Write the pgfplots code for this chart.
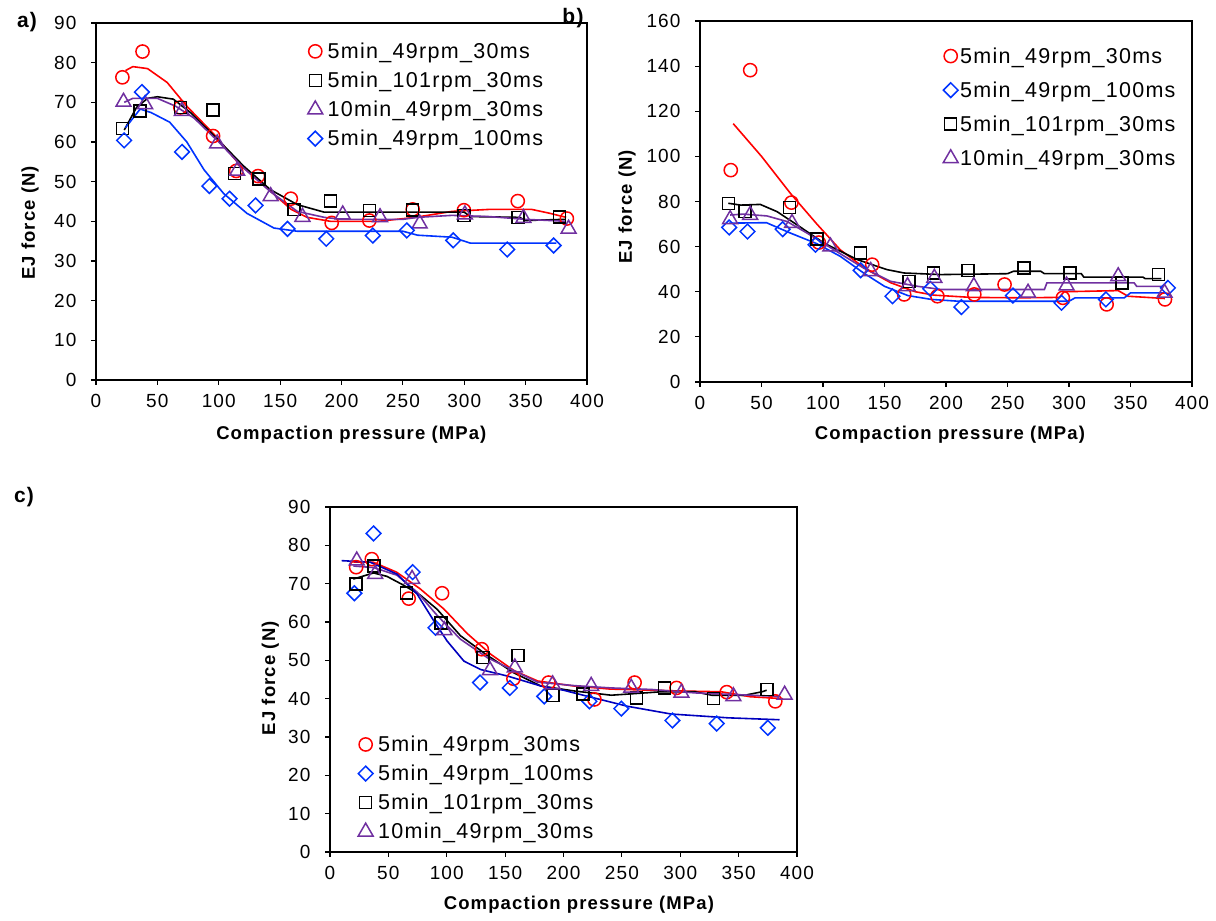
\documentclass[border=0pt]{standalone}
\usepackage{pgfplots}
\pgfplotsset{compat=1.18}
\usepackage{fontspec}
\setmainfont{Liberation Sans}[LetterSpace=6]
\definecolor{cred}{RGB}{255,0,0}
\definecolor{cblue}{RGB}{0,51,255}
\definecolor{cpurple}{RGB}{112,48,160}
\definecolor{cnavy}{RGB}{0,0,190}
\pgfplotsset{
  ejstyle/.style={
    scale only axis,
    xmin=0, xmax=400, ymin=0,
    xtick={0,50,...,400},
    tick align=outside, xtick pos=bottom, ytick pos=left,
    major tick length=5bp,
    axis line style={line width=1.4bp},
    every tick/.style={black, line width=1.2bp},
    tick label style={font=\fontsize{19bp}{20bp}\selectfont},
    xticklabel style={yshift=-6bp},
    yticklabel style={xshift=-11bp},
    /pgf/number format/assume math mode=true,
    label style={font=\bfseries\fontsize{18.5bp}{20bp}\selectfont},
    xlabel={Compaction pressure (MPa)}, ylabel={EJ force (N)},
    legend cell align=left,
    legend style={draw=none, fill=none, inner sep=0pt,
      font=\fontsize{21.5bp}{23bp}\selectfont,
      nodes={inner sep=0pt}, column sep=5bp},
  },
  myleg/.style={legend image code/.code={\draw[mark repeat=2,mark phase=2,##1] plot coordinates {(-8bp,0bp)(0bp,0bp)(8bp,0bp)};}},
  mred/.style={only marks, color=cred, mark=o, mark size=6.6bp, mark options={line width=1.5bp}, myleg},
  mblack/.style={only marks, color=black, mark=square, mark size=6bp, mark options={line width=1.5bp}, myleg},
  mpurple/.style={only marks, color=cpurple, mark=triangle, mark size=8.6bp, mark options={line width=1.5bp}, myleg},
  mblue/.style={only marks, color=cblue, mark=square, mark size=5.2bp, mark options={rotate=45, line width=1.5bp}, myleg},
  fit/.style={no markers, line width=1.6bp, forget plot},
}
\begin{document}
\begin{tikzpicture}[x=1bp,y=1bp]
\path[use as bounding box] (0,0) rectangle (1216,921);
\node[font=\bfseries\fontsize{21bp}{22bp}\selectfont] at (27,899) {a)};
\node[font=\bfseries\fontsize{21bp}{22bp}\selectfont] at (573,903) {b)};
\node[font=\bfseries\fontsize{21bp}{22bp}\selectfont] at (24,424) {c)};
% ---------------- a ----------------
\begin{axis}[ejstyle, at={(96bp,541bp)}, anchor=south west, width=491bp, height=357bp,
  ymax=90, ytick={0,10,...,90},
  xlabel style={at={(axis description cs:0.52,-0.154)}, anchor=center},
  ylabel style={at={(axis description cs:-0.134,0.44)}, anchor=center},
  legend style={at={(axis description cs:0.431,0.945)}, anchor=north west, row sep=12bp}]
\addplot[mred] coordinates {(21.5,76.3)(37.9,82.8)(68.7,68.7)(95.4,61.5)(114.2,52.7)(132,51.4)(158.7,45.7)(192,39.6)(222.7,40.2)(258,43)(299.7,42.8)(343.6,45.1)(383.6,40.7)};
\addlegendentry{5min\_49rpm\_30ms}
\addplot[mblack] coordinates {(21.5,63.4)(36,67.8)(68.7,68.7)(95.4,68.1)(112.9,52)(132.8,50.7)(161.4,43)(190.9,45.1)(222.8,42.7)(258,42.8)(299.9,41.5)(343.6,40.9)(377.7,41.1)};
\addlegendentry{5min\_101rpm\_30ms}
\addplot[mpurple] coordinates {(22.4,70.1)(40,69.5)(70,67.8)(98.7,59.6)(115,52.7)(142.3,46.3)(168.2,41.1)(201,41.7)(231.4,41)(263.7,39.4)(300.5,41.7)(348.2,40.8)(385,38.1)};
\addlegendentry{10min\_49rpm\_30ms}
\addplot[mblue] coordinates {(22.9,60.4)(37.4,72.6)(70.1,57.5)(92.4,48.9)(108.8,45.7)(130,44)(156,38.1)(187.6,35.6)(225.5,36.4)(253.2,37.7)(291,35.2)(335,32.9)(372.8,33.9)};
\addlegendentry{5min\_49rpm\_100ms}
\addplot[fit, cred] coordinates {(24,78)(30,79)(42,78.5)(58,75)(74,69)(96,62)(115,55)(137,49)(159,43)(172,41)(191,40)(230,40)(260,41)(290,42.5)(320,43)(355,43)(370,42)(383,41)};
\addplot[fit, black] coordinates {(23,63)(33,68.7)(42,71)(50,71.4)(63,70.8)(77,67.4)(99,60.7)(120,54)(142,48)(164,44.2)(186,42.3)(300,42.3)(305,41.2)(345,41)(350,40.2)(382,40.5)};
\addplot[fit, cpurple] coordinates {(23,70)(30,71)(50,71)(65,69)(80,66)(100,60)(120,53.5)(142,47.5)(164,42.5)(186,41)(200,40.5)(250,40.5)(262,41)(290,41.5)(320,41.2)(350,40.5)(383,40)};
\addplot[fit, cblue] coordinates {(24,63.6)(36,68.3)(45,67.4)(60,65)(74,60)(88,53)(104,47)(123,42)(145,38.3)(164,37.5)(250,37.5)(262,36.5)(290,36)(305,34.5)(375,34.5)};
\end{axis}
% ---------------- b ----------------
\begin{axis}[ejstyle, at={(700bp,539bp)}, anchor=south west, width=492bp, height=361bp,
  ymax=160, ytick={0,20,...,160},
  xlabel style={at={(axis description cs:0.508,-0.146)}, anchor=center},
  ylabel style={at={(axis description cs:-0.148,0.485)}, anchor=center},
  legend style={at={(axis description cs:0.494,0.927)}, anchor=north west, row sep=17bp, column sep=2bp}]
\addplot[mred] coordinates {(25,93.9)(40.8,138.2)(74.3,79.5)(96.6,61.8)(140,52)(166,38.8)(193,38)(223,38.8)(247.6,43.2)(295,37.3)(330.6,34.4)(378,36.6)};
\addlegendentry{5min\_49rpm\_30ms}
\addplot[mblue] coordinates {(23.7,68.5)(38.6,66.7)(67.2,67.7)(93.9,60.8)(130.6,49.5)(156.5,38)(187.2,41.3)(212.5,33.2)(254.4,38.3)(293.9,35.1)(330,36.6)(380.4,41.7)};
\addlegendentry{5min\_49rpm\_100ms}
\addplot[mblack] coordinates {(23.1,79.2)(36.7,75.5)(72.9,77.4)(95.2,63.3)(130.6,57.2)(170,44.6)(190,48.3)(217.7,49.5)(263.4,50.5)(300.7,48.3)(342.9,43.9)(372.8,47.6)};
\addlegendentry{5min\_101rpm\_30ms}
\addplot[mpurple] coordinates {(24.5,72.1)(40.8,74)(74.8,70.4)(106,60)(138.8,49.1)(168.7,42.4)(190.5,46.1)(222.6,42.4)(266.7,39.5)(298,42.7)(340,46.8)(377.7,39.5)};
\addlegendentry{10min\_49rpm\_30ms}
\addplot[fit, cred] coordinates {(27,114.5)(50,100)(73.5,83.6)(95,70)(114,58.6)(135,50)(155,44)(175,40)(190,38.5)(220,37.5)(260,37.3)(292,37.5)(296,40)(340,40.5)(348,38)(378,37)};
\addplot[fit, cblue] coordinates {(23.7,70.4)(54,70.6)(73.5,66)(95,61.3)(114,55.7)(133,48.3)(150,42.4)(169,38.3)(188,36.6)(210,35.8)(300,35.8)(305,37.3)(345,37.3)(350,39.5)(378,39.5)};
\addplot[fit, black] coordinates {(23,79.2)(33,78.4)(49,78.7)(62.6,75.5)(79,69.6)(100.7,61.6)(128,54.2)(152,49.8)(166,48.3)(196,47.6)(250,48)(255,49.1)(277,49.1)(280,48)(310,48)(312,46.5)(360,46.5)(362,45.8)(375,45.8)};
\addplot[fit, cpurple] coordinates {(24.5,74)(35,74.4)(54.4,73.6)(70.8,71.1)(87,66)(108.8,58.6)(133,50.5)(155,44.6)(177,42.4)(196,41)(280,41)(282,43.9)(353,43.9)(355,42.4)(377,42.4)};
\end{axis}
% ---------------- c ----------------
\begin{axis}[ejstyle, at={(330bp,69bp)}, anchor=south west, width=467bp, height=345bp,
  ymax=90, ytick={0,10,...,90},
  xlabel style={at={(axis description cs:0.533,-0.154)}, anchor=center},
  ylabel style={at={(axis description cs:-0.128,0.504)}, anchor=center},
  legend style={at={(axis description cs:0.06,0.337)}, anchor=north west, row sep=12bp}]
\addplot[mred] coordinates {(22.4,74.3)(35.8,76.4)(67.4,66.1)(96,67.5)(130,52.9)(157.1,45.2)(187.2,44.2)(226.5,39.8)(260.9,44.2)(296.8,42.8)(339.8,41.7)(381.4,39.3)};
\addlegendentry{5min\_49rpm\_30ms}
\addplot[mblue] coordinates {(20.9,67.5)(37.3,83.1)(70.8,73)(90.3,58.5)(128.5,44.2)(154,42.8)(183.5,40.6)(222.2,39.3)(249.5,37.4)(293.3,34.3)(331.2,33.5)(375,32.4)};
\addlegendentry{5min\_49rpm\_100ms}
\addplot[mblack] coordinates {(22.1,69.9)(37.8,74.6)(65.4,67.5)(95.2,59.7)(131,50.8)(161.1,51.3)(191.2,40.8)(216.5,41.2)(262.4,40.2)(286.7,42.8)(328.3,40)(374.2,42.4)};
\addlegendentry{5min\_101rpm\_30ms}
\addplot[mpurple] coordinates {(22.9,76)(38.7,72.5)(70.3,71.2)(98,57.8)(137,47.4)(158.3,48.1)(190.7,43.7)(223.7,43.3)(258,42.8)(301,41.5)(345.5,40.6)(389.4,41)};
\addlegendentry{10min\_49rpm\_30ms}
\addplot[fit, cred] coordinates {(20,75.6)(37,75.6)(57,73)(77,68.7)(97.5,63.4)(117.5,57)(137.6,51.6)(157.7,47.3)(178,44.6)(209,43.3)(240,42.5)(300,42)(335,41.8)(360,40.5)(388,40)};
\addplot[fit, black] coordinates {(20,71.2)(37.3,72.8)(48.8,71.9)(63,69.6)(77.4,67)(91.8,63.3)(111.8,56.4)(134.7,51.3)(157.7,46.7)(180.6,43.3)(209.3,42)(240.9,40.9)(283.9,41.8)(312.6,41.8)(326.9,40.9)(355.5,40.9)(370,41.8)(374,42.2)};
\addplot[fit, cpurple] coordinates {(20,74.6)(37.3,74.2)(57.4,72.2)(74.6,67.8)(91.8,61.7)(111.8,55.5)(134.7,50.7)(157.7,47.3)(177.8,44.3)(209.3,43.4)(240.9,42.8)(275.3,42.4)(312.6,41.5)(384,40.6)};
\addplot[fit, cnavy] coordinates {(10,76)(34.4,75.6)(57.4,72.5)(74.6,67.3)(88.9,60.3)(100.4,55)(114.7,49.8)(129,47.6)(152,45.9)(180.6,43.3)(200,42.2)(226,40.2)(255,38)(292,36)(341,35)(385,34.5)};
\end{axis}
\end{tikzpicture}
\end{document}
